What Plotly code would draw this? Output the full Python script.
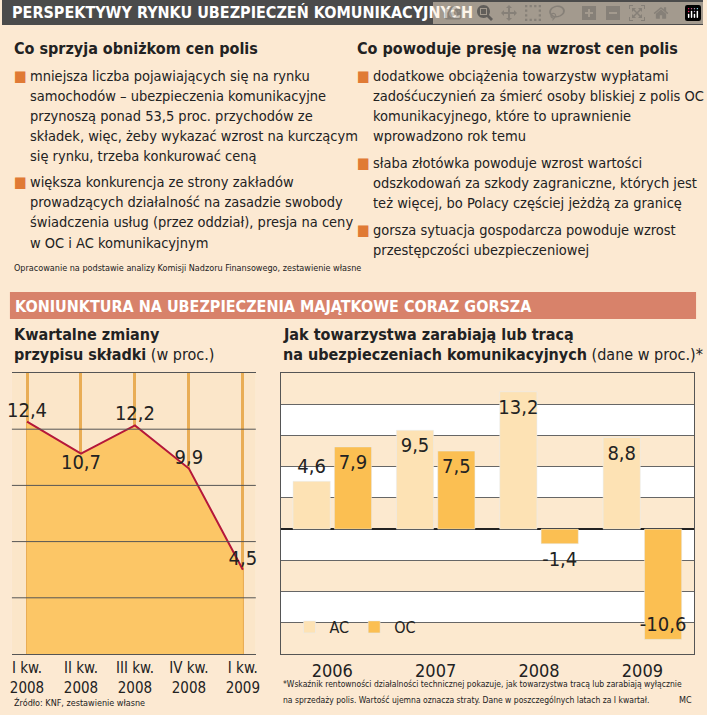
import plotly.graph_objects as go

W, H = 707, 715

# --- data ---
quarters = ["I kw.<br>2008", "II kw.<br>2008", "III kw.<br>2008", "IV kw.<br>2008", "I kw.<br>2009"]
premium_change = [12.4, 10.7, 12.2, 9.9, 4.5]
premium_labels = ["12,4", "10,7", "12,2", "9,9", "4,5"]

years = ["2006", "2007", "2008", "2009"]
ac_values = [4.6, 9.5, 13.2, 8.8]
oc_values = [7.9, 7.5, -1.4, -10.6]
ac_labels = ["4,6", "9,5", "13,2", "8,8"]
oc_labels = ["7,9", "7,5", "-1,4", "-10,6"]

left_heading = "Co sprzyja obniżkom cen polis"
left_bullets = [
    ["mniejsza liczba pojawiających się na rynku", "samochodów – ubezpieczenia komunikacyjne",
     "przynoszą ponad 53,5 proc. przychodów ze", "składek, więc, żeby wykazać wzrost na kurczącym",
     "się rynku, trzeba konkurować ceną"],
    ["większa konkurencja ze strony zakładów", "prowadzących działalność na zasadzie swobody",
     "świadczenia usług (przez oddział), presja na ceny", "w OC i AC komunikacyjnym"],
]
right_heading = "Co powoduje presję na wzrost cen polis"
right_bullets = [
    ["dodatkowe obciążenia towarzystw wypłatami", "zadośćuczynień za śmierć osoby bliskiej z polis OC",
     "komunikacyjnego, które to uprawnienie", "wprowadzono rok temu"],
    ["słaba złotówka powoduje wzrost wartości", "odszkodowań za szkody zagraniczne, których jest",
     "też więcej, bo Polacy częściej jeżdżą za granicę"],
    ["gorsza sytuacja gospodarcza powoduje wzrost", "przestępczości ubezpieczeniowej"],
]

FONT = "DejaVu Sans Condensed, Liberation Sans Narrow, sans-serif"
BG = "#fce9d2"
AREA = "#fcc666"
AC_C = "#fde2b4"
OC_C = "#fbbf52"
BULLET = "#e07a35"


def px(x):
    return x / W


def py(y):
    return 1 - y / H


fig = go.Figure()

# left: area chart
fig.add_trace(go.Scatter(
    x=list(range(len(quarters))), y=premium_change, mode="lines+text",
    fill="tozeroy", fillcolor=AREA, line=dict(color="#b5173a", width=2),
    text=premium_labels,
    textposition=["top center", "bottom center", "top center", "top center", "top center"],
    textfont=dict(family=FONT, size=20, color="#222"),
    xaxis="x", yaxis="y", showlegend=False, cliponaxis=False, hoverinfo="skip",
))

# right: grouped bars
xs = list(range(len(years)))
fig.add_trace(go.Bar(
    x=[i - 0.2 for i in xs], y=ac_values, width=0.36, name="AC", marker_color=AC_C,
    text=ac_labels, textposition=["outside", "inside", "inside", "inside"],
    insidetextanchor="end", textangle=0, constraintext="none", cliponaxis=False,
    textfont=dict(family=FONT, size=20, color="#222"), xaxis="x2", yaxis="y2",
))
fig.add_trace(go.Bar(
    x=[i + 0.2 for i in xs], y=oc_values, width=0.36, name="OC", marker_color=OC_C,
    text=oc_labels, textposition=["inside", "inside", "outside", "inside"],
    insidetextanchor="end", textangle=0, constraintext="none", cliponaxis=False,
    textfont=dict(family=FONT, size=20, color="#222"), xaxis="x2", yaxis="y2",
))

shapes = []
# top header bar and section header
shapes.append(dict(type="rect", xref="paper", yref="paper", x0=0, x1=1, y0=py(25), y1=1,
                   fillcolor="#4b4b4b", line_width=0, layer="below"))
shapes.append(dict(type="rect", xref="paper", yref="paper", x0=px(8), x1=px(700), y0=py(319), y1=py(292),
                   fillcolor="#d8826a", line_width=0, layer="below"))
# left chart background
shapes.append(dict(type="rect", xref="x domain", yref="y domain", x0=0, x1=1, y0=0, y1=1,
                   fillcolor="#fbe6c9", line_width=0, layer="below"))
# horizontal lines over the area
for v in [3, 6, 9, 12]:
    shapes.append(dict(type="line", xref="x domain", yref="y", x0=0, x1=1, y0=v, y1=v,
                       line=dict(color="#555", width=1), layer="above"))
# bands on right chart
for lo in range(-12, 15, 3):
    if (lo // 3) % 2 == 0:
        shapes.append(dict(type="rect", xref="x2 domain", yref="y2", x0=0, x1=1, y0=lo, y1=lo + 3,
                           fillcolor="#fce9cf", line_width=0, layer="below"))

ann = []


def txt(x, y, s, size=15, color="#222", bold=False, anchor="left"):
    if bold:
        s = f"<b>{s}</b>"
    ann.append(dict(xref="paper", yref="paper", x=px(x), y=py(y), text=s, showarrow=False,
                    xanchor=anchor, yanchor="middle", font=dict(family=FONT, size=size, color=color)))


txt(8, 12, "PERSPEKTYWY RYNKU UBEZPIECZEŃ KOMUNIKACYJNYCH", 16, "white", True)
txt(11, 306, "KONIUNKTURA NA UBEZPIECZENIA MAJĄTKOWE CORAZ GORSZA", 16, "white", True)

for col_x, heading, bullets, ys in [
    (10, left_heading, left_bullets, [[76, 96, 116, 136, 156], [182, 202, 222, 243]]),
    (356, right_heading, right_bullets, [[76, 96, 116, 136], [163, 183, 203], [230, 250]]),
]:
    txt(col_x, 48, heading, 16, "#222", True)
    for lines, yy in zip(bullets, ys):
        txt(col_x, yy[0], f"<span style='color:{BULLET}'>■</span>", 15)
        for line, y in zip(lines, yy):
            txt(col_x + 16, y, line, 14.5)

txt(10, 268, "Opracowanie na podstawie analizy Komisji Nadzoru Finansowego, zestawienie własne", 9)
txt(10, 334, "<b>Kwartalne zmiany</b>", 16)
txt(10, 355, "<b>przypisu składki</b> (w proc.)", 16)
txt(281, 334, "<b>Jak towarzystwa zarabiają lub tracą</b>", 16)
txt(281, 355, "<b>na ubezpieczeniach komunikacyjnych</b> (dane w proc.)*", 16)
txt(10, 702, "Źródło: KNF, zestawienie własne", 9)
txt(281, 684, "*Wskaźnik rentowności działalności technicznej pokazuje, jak towarzystwa tracą lub zarabiają wyłącznie", 8.5)
txt(281, 700, "na sprzedaży polis. Wartość ujemna oznacza straty. Dane w poszczególnych latach za I kwartał.", 8.5)
txt(698, 700, "MC", 9, anchor="right")

fig.update_layout(
    width=W, height=H, margin=dict(l=0, r=0, t=0, b=0),
    paper_bgcolor=BG, plot_bgcolor="white",
    font=dict(family=FONT, color="#222"),
    shapes=shapes, annotations=ann, barmode="overlay",
    legend=dict(x=px(290), y=py(627), xanchor="left", yanchor="middle", orientation="h",
                bgcolor="rgba(0,0,0,0)", font=dict(family=FONT, size=16), itemwidth=30),
    xaxis=dict(domain=[px(10), px(256)], range=[-0.28, 4.24], tickvals=list(range(len(quarters))),
               ticktext=quarters, showgrid=True, gridcolor="#e9ad55", gridwidth=3,
               zeroline=False, showline=True, linecolor="#555", mirror=True,
               tickfont=dict(family=FONT, size=15), ticks=""),
    yaxis=dict(domain=[py(654), py(373)], range=[0, 15], showgrid=False, zeroline=False,
               showticklabels=False, showline=False),
    xaxis2=dict(domain=[px(281), px(698)], range=[-0.5, 3.5], tickvals=xs, ticktext=years,
                showgrid=False, zeroline=False, showline=True, linecolor="#555", mirror=True,
                tickfont=dict(family=FONT, size=18), ticks="", anchor="y2"),
    yaxis2=dict(domain=[py(654), py(373)], range=[-12, 15], dtick=3, tick0=0, showgrid=True,
                gridcolor="#666", gridwidth=1, zeroline=True, zerolinecolor="#222", zerolinewidth=2,
                showticklabels=False, showline=True, linecolor="#555", mirror=True, anchor="x2"),
)

fig.write_html("out.html", post_script="document.body.style.margin='0';document.body.style.overflow='hidden';")
